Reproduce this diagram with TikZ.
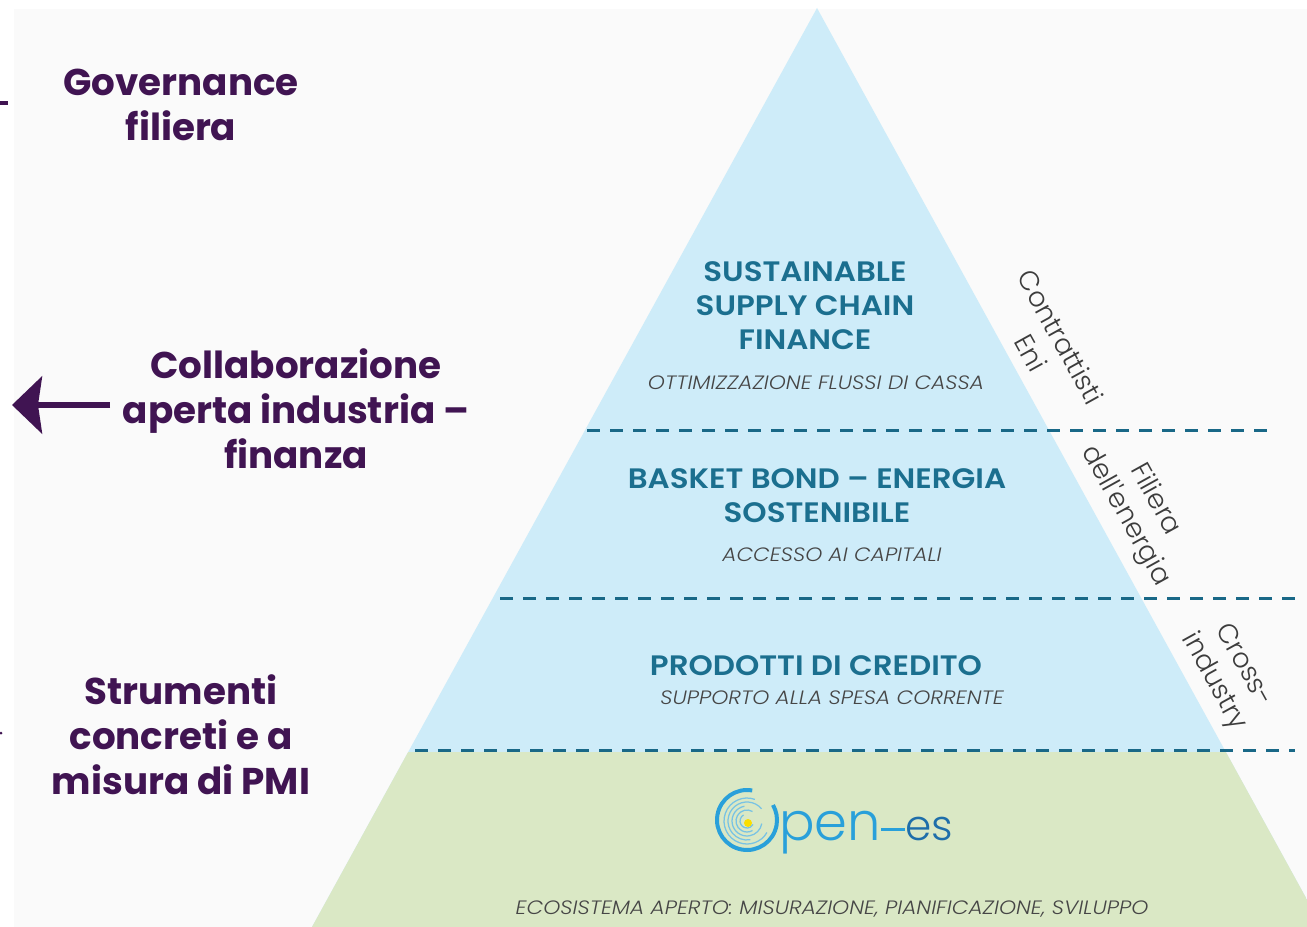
\documentclass[tikz,border=0pt]{standalone}
\usepackage{fontspec}
\setmainfont{Poppins}
\newfontfamily\lightfont{Poppins Light}
\newfontfamily\notefont{Poppins Light}[FakeStretch=1.12]
\newfontfamily\semifont{Poppins SemiBold}[FakeStretch=1.1]
\usetikzlibrary{arrows.meta, positioning}
\definecolor{plum}{RGB}{64,20,82}
\definecolor{tealtxt}{RGB}{27,111,143}
\definecolor{cutline}{RGB}{25,104,135}
\definecolor{skyfill}{RGB}{206,236,249}
\definecolor{leaffill}{RGB}{218,232,197}
\definecolor{panel}{RGB}{250,250,250}
\definecolor{notetxt}{RGB}{70,70,70}
\definecolor{edgetxt}{RGB}{60,60,60}
\definecolor{logoa}{RGB}{41,160,218}
\definecolor{logob}{RGB}{30,110,170}
\definecolor{logoc}{RGB}{120,195,228}
\definecolor{sun}{RGB}{250,222,0}
\tikzset{
  side/.style={text=plum,inner sep=0,align=center,font=\bfseries\fontsize{21.2}{25.6}\selectfont},
  tier/.style={text=tealtxt,inner sep=0,align=center,font=\semifont\fontsize{16}{19.3}\selectfont},
  note/.style={text=notetxt,inner sep=0,font=\notefont\itshape\fontsize{11}{12}\selectfont},
  edge/.style={text=edgetxt,inner sep=0,align=center,rotate=-61,font=\lightfont\fontsize{15.4}{19.3}\selectfont},
  cut/.style={draw=cutline,line width=0.6mm,dash pattern=on 2.6mm off 2mm},
  ring/.style={draw=logoa,line width=0.8mm},
  swirl/.style={draw=logoc,line width=0.25mm},
}

\begin{document}
\begin{tikzpicture}[x=0.2mm,y=-0.2mm]

\useasboundingbox (0,0) rectangle (1307,927);
\fill[white] (0,0) rectangle (1307,927);
\fill[panel] (14,9) rectangle (1307,927);
\fill[plum] (0,101) rectangle (8,105);
\fill[plum] (1,733) circle[radius=1.5];

\begin{scope}
\clip (0,0) rectangle (1307,927);
\fill[skyfill] (817,8) -- (312,927) -- (1322,927) -- cycle;
\clip (817,8) -- (312,927) -- (1322,927) -- cycle;
\fill[leaffill] (300,752) rectangle (1340,927);
\end{scope}

\draw[cut] (587,431) -- (1275,431);
\draw[cut] (500,598) -- (1295,598);
\draw[cut] (415,750) -- (1295,750);

\node[side] at (181,105) (gov) {Governance\\filiera};
\node[side] at (296,409) (collab) {Collaborazione\\aperta industria –\\finanza};
\node[side] at (181,735) (tools) {Strumenti\\concreti e a\\misura di PMI};

\coordinate (arrs) at (110,405);
\coordinate (arre) at (12,405);
\draw[plum,line width=1.2mm,-{Stealth[length=6mm,width=11.4mm,inset=0.8mm]}] (arrs) -- (arre);

\node[tier] at (805,306) (sscf) {SUSTAINABLE\\SUPPLY CHAIN\\FINANCE};
\node[note] at (816,383) (cash) {OTTIMIZZAZIONE FLUSSI DI CASSA};
\node[tier] at (817,496) (bond) {BASKET BOND – ENERGIA\\SOSTENIBILE};
\node[note] at (832,555) (cap) {ACCESSO AI CAPITALI};
\node[tier] at (816,666) (cred) {PRODOTTI DI CREDITO};
\node[note] at (832,698) (spesa) {SUPPORTO ALLA SPESA CORRENTE};
\node[note] at (832,909) (eco) {ECOSISTEMA APERTO: MISURAZIONE, PIANIFICAZIONE, SVILUPPO};

\node[edge] at (1046,345) (eni) {Contrattisti\\Eni};
\node[edge] at (1140,508) (fil) {Filiera\\dell'energia};
\node[edge] at (1228,674) (cross) {Cross-\\industry};

\draw[ring] (747,820) ++(-80:30) arc[start angle=-80,end angle=-390,radius=30];
\foreach \r/\a/\b in {7/-120/-330, 11/-60/-300, 15/-100/-350, 19/-40/-280, 23/-70/-330}
  \draw[swirl] (747,821) ++(\a:\r) arc[start angle=\a,end angle=\b,radius=\r];
\fill[sun] (748,823) circle[radius=4];
\node[anchor=base west,inner sep=0,text=logoa,font=\lightfont\fontsize{30}{30}\selectfont] at (779,840) (pen) {pen};
\node[anchor=base west,inner sep=0,text=logob,font=\lightfont\fontsize{24}{24}\selectfont] at (905,840) (es) {es};
\draw[logoa,line width=0.6mm] (pen.east |- 0,829) -- (es.west |- 0,829);

\end{tikzpicture}
\end{document}
